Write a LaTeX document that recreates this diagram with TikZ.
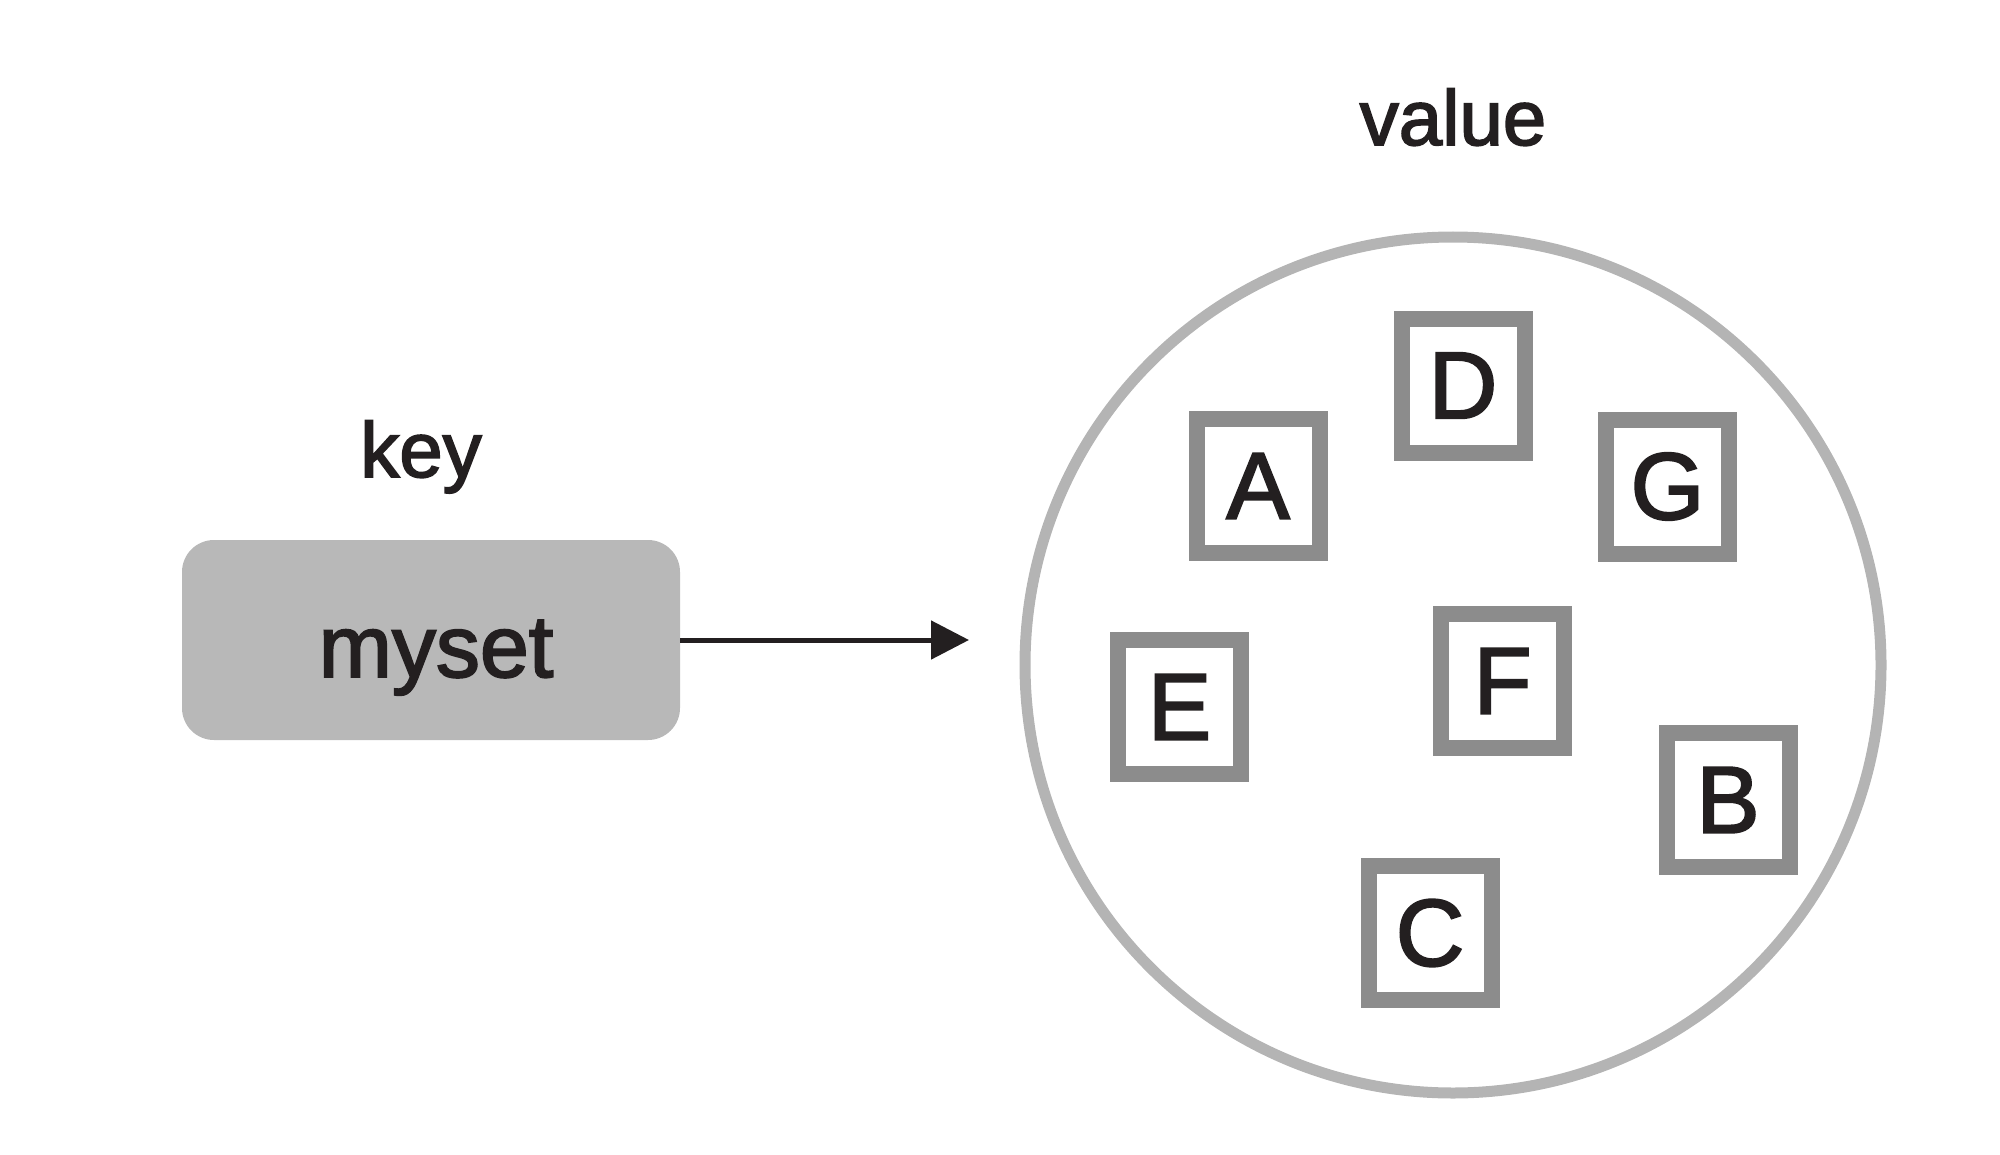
\documentclass[tikz,border=0pt]{standalone}
\usepackage{fontspec}
\setmainfont{Liberation Sans}
\newfontfamily\medfont[FakeBold=2.2]{Liberation Sans}
\usetikzlibrary{arrows.meta}
\definecolor{ink}{HTML}{231F20}
\definecolor{ringgray}{HTML}{B4B4B4}
\definecolor{boxgray}{HTML}{8C8C8C}
\definecolor{keyfill}{HTML}{B8B8B8}
\tikzset{
  lbl/.style={text=ink, inner sep=0pt, anchor=base, font=\medfont\fontsize{39}{46}\selectfont},
  elem/.style={draw=boxgray, line width=8pt, fill=white, minimum width=61.5pt, minimum height=67pt,
               inner sep=0pt, text=ink, font=\medfont\fontsize{47.5}{56}\selectfont},
  keybox/.style={fill=keyfill, rounded corners=16pt, minimum width=249pt, minimum height=100pt, inner sep=0pt},
  setring/.style={circle, draw=ringgray, line width=5.5pt, minimum size=428pt, inner sep=0pt},
  link/.style={draw=ink, line width=2.5pt, -{Triangle[length=19pt,width=19pt]}}
}
\begin{document}
\begin{tikzpicture}[x=0.5pt,y=-0.5pt]
\useasboundingbox (0,0) rectangle (2000,1155);
% key side
\node[lbl] (keylbl) at (421,477) {key};
\node[keybox] (kbox) at (431,640) {};
\node[lbl, font=\medfont\fontsize{44}{52}\selectfont] (kname) at (436,677) {myset};
% value side
\node[lbl] (vallbl) at (1453,145) {value};
\node[setring] (ring) at (1453,665) {};
\node[elem] (A) at (1258,486) {A};
\node[elem] (D) at (1463,385.5) {D};
\node[elem] (G) at (1667.5,486.5) {G};
\node[elem] (E) at (1179.5,707) {E};
\node[elem] (F) at (1502.5,681) {F};
\node[elem] (B) at (1728,800) {B};
\node[elem] (C) at (1430,933) {C};
% connector
\coordinate (tip) at (969,640);
\draw[link] (kbox.east) -- (tip);
\end{tikzpicture}
\end{document}
